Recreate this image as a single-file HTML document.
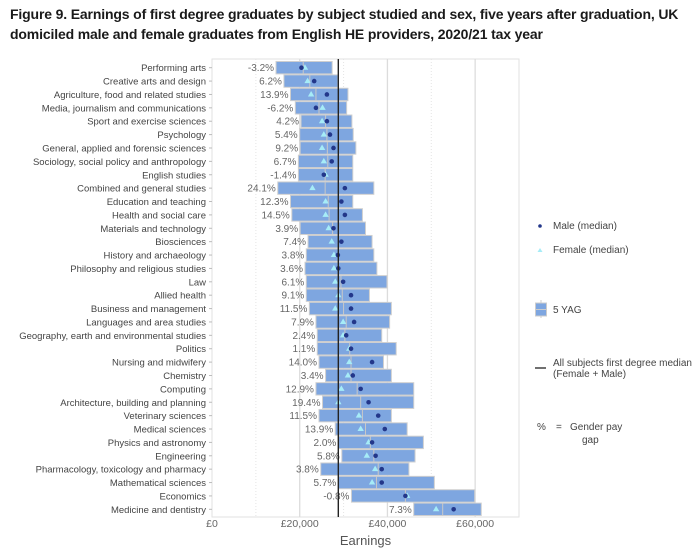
<!DOCTYPE html>
<html><head><meta charset="utf-8"><style>
html,body{margin:0;padding:0;background:#fff;width:700px;height:549px;overflow:hidden}
.title{position:absolute;left:10px;top:4px;width:692px;font:bold 14px "Liberation Sans","DejaVu Sans",sans-serif;color:#1a1a1a;line-height:20px;letter-spacing:-0.15px}
svg{position:absolute;left:0;top:0}
text{font-family:"Liberation Sans",sans-serif}
</style></head><body>
<div class="title">Figure 9. Earnings of first degree graduates by subject studied and sex, five years after graduation, UK domiciled male and female graduates from English HE providers, 2020/21 tax year</div>
<svg id="chart" width="700" height="549"></svg>
<script>
const subjects=["Performing arts","Creative arts and design","Agriculture, food and related studies","Media, journalism and communications","Sport and exercise sciences","Psychology","General, applied and forensic sciences","Sociology, social policy and anthropology","English studies","Combined and general studies","Education and teaching","Health and social care","Materials and technology","Biosciences","History and archaeology","Philosophy and religious studies","Law","Allied health","Business and management","Languages and area studies","Geography, earth and environmental studies","Politics","Nursing and midwifery","Chemistry","Computing","Architecture, building and planning","Veterinary sciences","Medical sciences","Physics and astronomy","Engineering","Pharmacology, toxicology and pharmacy","Mathematical sciences","Economics","Medicine and dentistry"];
const gapLabels=["-3.2%","6.2%","13.9%","-6.2%","4.2%","5.4%","9.2%","6.7%","-1.4%","24.1%","12.3%","14.5%","3.9%","7.4%","3.8%","3.6%","6.1%","9.1%","11.5%","7.9%","2.4%","1.1%","14.0%","3.4%","12.9%","19.4%","11.5%","13.9%","2.0%","5.8%","3.8%","5.7%","-0.8%","7.3%"];
const barLow=[14.6,16.4,17.9,19.0,20.3,20.0,20.1,19.7,19.7,15.0,17.9,18.2,20.1,21.9,21.5,21.2,21.5,21.5,22.2,23.7,24.0,24.0,24.4,25.9,23.7,25.2,24.4,28.1,28.8,29.6,24.8,28.8,31.8,46.0];
const barHigh=[27.4,28.7,31.0,30.7,31.9,32.2,32.8,32.1,32.1,36.9,32.1,34.3,35.0,36.5,36.9,37.6,39.9,35.9,40.9,40.5,38.7,42.0,39.1,40.9,46.0,46.0,40.9,44.5,48.2,46.3,44.9,50.7,59.9,61.4];
const medianAll=[20.8,22.3,23.7,24.4,25.9,26.2,26.3,26.4,25.8,25.8,26.5,26.7,27.5,28.8,28.8,28.8,29.4,29.7,30.0,30.6,30.3,31.4,31.7,31.7,33.1,33.9,34.3,35.0,36.1,36.9,37.9,37.5,44.1,52.6];
const maleMedian=[20.4,23.3,26.2,23.7,26.2,26.9,27.7,27.3,25.5,30.3,29.5,30.3,27.7,29.5,28.7,28.8,29.9,31.7,31.7,32.4,30.6,31.7,36.5,32.1,33.9,35.7,37.9,39.4,36.5,37.3,38.7,38.7,44.1,55.1];
const femaleMedian=[21.2,21.8,22.6,25.2,25.1,25.5,25.1,25.5,25.9,22.9,25.9,25.9,26.6,27.3,27.8,27.8,28.1,28.8,28.1,29.9,29.9,31.3,31.3,31.0,29.5,28.8,33.5,33.9,35.7,35.3,37.2,36.5,44.5,51.1];
const overallMedian=28.8;
const xTicks=[0,20,40,60];
const xTickLabels=["£0","£20,000","£40,000","£60,000"];
const NS="http://www.w3.org/2000/svg";
const svg=document.getElementById('chart');
const L=212,R=519,T=61,B=516,xMax=70;
const x=v=>L+v/xMax*(R-L);
const rowH=(B-T)/subjects.length;
const y=i=>T+rowH*(i+0.5);
function mk(tag,attrs,parent){const e=document.createElementNS(NS,tag);for(const k in attrs)e.setAttribute(k,attrs[k]);(parent||svg).appendChild(e);return e;}
mk('rect',{x:L,y:T-2,width:R-L,height:B-T+3,fill:'#fff',stroke:'#e2e2e2'});
[10,30,50].forEach(v=>{const g=mk('line',{x1:x(v),x2:x(v),y1:T-2,y2:B+1,stroke:'#e4e4e4','stroke-dasharray':'1,2'});

});
xTicks.forEach((v,i)=>{
 if(v>0){const g=mk('line',{x1:x(v),x2:x(v),y1:T-2,y2:B+1,stroke:'#dcdcdc','stroke-width':1.3});
 
 }
 const t=mk('text',{x:x(v),y:527,'text-anchor':'middle','font-size':10.5,fill:'#666'});t.textContent=xTickLabels[i];
 
 
});
const xt=mk('text',{x:x(35),y:545,'text-anchor':'middle','font-size':13,fill:'#555'});xt.textContent='Earnings';


subjects.forEach((s,i)=>{
 const yc=y(i);
 const lb=mk('text',{x:L-6,y:yc+3.5,'text-anchor':'end','font-size':9.5,fill:'#444'});lb.textContent=s;
 
 
 mk('line',{x1:L-3,x2:L,y1:yc,y2:yc,stroke:'#bbb'});
 const b=mk('rect',{x:x(barLow[i]),y:yc-6.2,width:x(barHigh[i])-x(barLow[i]),height:12.4,fill:'#7ea6e0',stroke:'#cfcfcf','stroke-width':1});
 
 
 mk('line',{x1:x(medianAll[i]),x2:x(medianAll[i]),y1:yc-6,y2:yc+6,stroke:'#c8c8c8','stroke-width':1});
 const g=mk('text',{x:x(barLow[i])-2,y:yc+3.5,'text-anchor':'end','font-size':10,fill:'#666'});g.textContent=gapLabels[i];
 
 
 const fx=x(femaleMedian[i]);
 const tr=mk('polygon',{points:`${fx},${yc-3.5} ${fx-3.2},${yc+2} ${fx+3.2},${yc+2}`,fill:'#a6ecf7'});
 
 
 const c=mk('circle',{cx:x(maleMedian[i]),cy:yc,r:2.3,fill:'#23378a'});
 
 
});
const ml=mk('line',{x1:x(overallMedian),x2:x(overallMedian),y1:T-2,y2:B+1,stroke:'#222','stroke-width':1.4});


function lt(txt,xx,yy,name){const t=mk('text',{x:xx,y:yy,'font-size':10,fill:'#444'});t.textContent=txt;return t;}
mk('circle',{cx:540,cy:226,r:1.8,fill:'#23378a'});
lt('Male (median)',553,229,'legend-male');
mk('polygon',{points:'540,248 537.5,252 542.5,252',fill:'#a6ecf7'});
lt('Female (median)',553,253,'legend-female');
mk('line',{x1:541,x2:541,y1:300,y2:318,stroke:'#ccc'});
mk('rect',{x:535.5,y:303,width:11,height:13,fill:'#7ea6e0',stroke:'#ccc'});
mk('line',{x1:536,x2:546,y1:309.5,y2:309.5,stroke:'#ccc'});
lt('5 YAG',553,313,'legend-5yag');
mk('line',{x1:535,x2:546,y1:368,y2:368,stroke:'#222','stroke-width':1.3});
lt('All subjects first degree median',553,366,'legend-overall-median');
lt(' (Female + Male)',553,377,'legend-overall-median-sub');
lt('%',537,430,'legend-percent');
lt('=',556,430,'legend-equals');
lt('Gender pay',570,430,'legend-gap');
lt('gap',582,443,'legend-gap-2');
</script>
</body></html>
